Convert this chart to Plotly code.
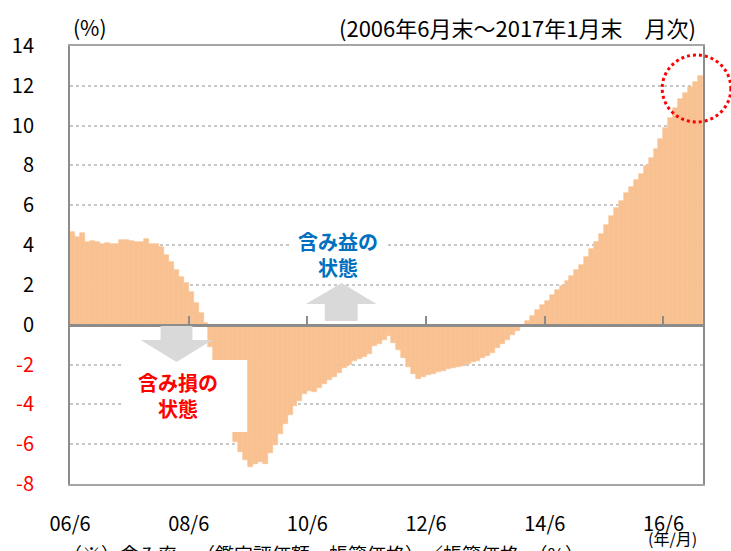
import numpy as np
import pandas as pd
import plotly.graph_objects as go

# ---------------- data ----------------
months = pd.date_range("2006-06-01", periods=128, freq="MS").strftime("%Y/%m").tolist()

values = [
    4.68, 4.41, 4.59, 4.17, 4.20, 4.15, 4.07, 4.12, 4.03, 4.07,
    4.25, 4.27, 4.20, 4.17, 4.17, 4.30, 4.03, 4.07, 3.90, 3.50,
    3.17, 2.73, 2.42, 2.10, 1.62, 1.11, 0.58, 0.10, -1.11, -2.40,
    -3.30, -4.20, -5.00, -5.90, -6.40, -6.80, -7.14, -7.02, -6.90, -7.02,
    -6.43, -6.04, -5.50, -4.99, -4.52, -4.07, -3.84, -3.49, -3.32, -3.37,
    -3.20, -2.99, -2.80, -2.63, -2.40, -2.19, -2.00, -1.80, -1.74, -1.60,
    -1.48, -1.06, -0.99, -0.77, -0.55, -0.92, -1.28, -1.68, -2.10, -2.46,
    -2.72, -2.63, -2.53, -2.45, -2.36, -2.31, -2.24, -2.19, -2.14, -2.07,
    -1.99, -1.89, -1.82, -1.69, -1.55, -1.40, -1.18, -0.98, -0.76, -0.51,
    -0.30, -0.10, 0.17, 0.44, 0.73, 0.99, 1.21, 1.48, 1.72, 1.96,
    2.20, 2.46, 2.73, 3.02, 3.39, 3.78, 4.16, 4.58, 5.01, 5.47,
    5.86, 6.23, 6.60, 6.94, 7.28, 7.58, 7.95, 8.37, 8.85, 9.35,
    9.86, 10.40, 10.87, 11.33, 11.63, 11.92, 12.19, 12.48,
]

tick_months = ["2006/06", "2008/06", "2010/06", "2012/06", "2014/06", "2016/06"]
tick_labels = ["06/6", "08/6", "10/6", "12/6", "14/6", "16/6"]
y_ticks = list(range(-8, 15, 2))

# ---------------- geometry / style ----------------
W, H = 731, 551
L, R, T, B = 67, 703, 46, 484
FONT = "Noto Sans CJK JP, Noto Sans, sans-serif"
BAR = "#F9C191"
AXC = "#8C8C8C"
GREY = "#D9D9D9"


def px(x):
    return (x - L) / (R - L)


def py(y):
    return (B - y) / (B - T)


def path(points):
    return "M " + " L ".join(f"{px(a):.5f},{py(b):.5f}" for a, b in points) + " Z"


def note(text, x, y, size, color="black", xanchor="center"):
    return dict(text=text, xref="paper", yref="paper", x=px(x), y=py(y),
                xanchor=xanchor, yanchor="middle", showarrow=False,
                font=dict(size=size, color=color, family=FONT))


x_idx = np.arange(len(values))
tick_idx = [months.index(m) for m in tick_months]

y_text = [
    (f'<span style="color:#FF0000">{v}</span>' if v < 0 else str(v)) for v in y_ticks
]

fig = go.Figure()
fig.add_trace(go.Bar(
    x=x_idx, y=values, width=1,
    marker=dict(color=BAR, line=dict(color=BAR, width=0.6)),
    customdata=months, hovertemplate="%{customdata}: %{y:.2f}%<extra></extra>",
    showlegend=False,
))
# invisible helper so the zero-line axis (x2) is drawn
fig.add_trace(go.Scatter(x=[0], y=[0], xaxis="x2", mode="markers",
                         marker=dict(opacity=0), hoverinfo="skip", showlegend=False))

fig.update_layout(
    width=W, height=H,
    margin=dict(l=L, r=W - R, t=T, b=H - B),
    paper_bgcolor="white", plot_bgcolor="white",
    bargap=0,
    font=dict(family=FONT, color="black"),
    xaxis=dict(
        range=[-0.5, len(values) - 0.5],
        tickmode="array",
        tickvals=[i - 0.5 for i in tick_idx],
        ticktext=tick_labels,
        ticks="", showgrid=False, zeroline=False,
        showline=True, mirror=True, linecolor="#A6A6A6", linewidth=2,
        tickfont=dict(size=20, family=FONT),
        ticklabelstandoff=21,
    ),
    xaxis2=dict(
        overlaying="x", matches="x", anchor="free",
        position=(0 - (-8)) / (14 - (-8)),
        range=[-0.5, len(values) - 0.5],
        tickmode="array",
        tickvals=[i - 0.5 for i in tick_idx[1:]],
        ticks="inside", ticklen=8, tickwidth=2, tickcolor=AXC,
        showticklabels=False, showgrid=False, zeroline=False,
        showline=True, linecolor=AXC, linewidth=2.5,
        layer="above traces",
    ),
    yaxis=dict(
        range=[-8, 14],
        tickmode="array", tickvals=y_ticks, ticktext=y_text,
        ticks="", zeroline=False,
        showgrid=True, gridcolor="#C8C8C8", gridwidth=2, griddash="dot",
        showline=True, mirror=True, linecolor=AXC, linewidth=2,
        tickfont=dict(size=20, family=FONT),
        ticklabelstandoff=30,
    ),
    shapes=[
        # white label backgrounds
        dict(type="rect", xref="paper", yref="paper", layer="above",
             x0=px(120), x1=px(245), y0=py(432), y1=py(360),
             fillcolor="white", line=dict(width=0)),
        dict(type="rect", xref="paper", yref="paper", layer="above",
             x0=px(288), x1=px(386), y0=py(281), y1=py(229),
             fillcolor="white", line=dict(width=0)),
        # grey arrows
        dict(type="path", xref="paper", yref="paper", layer="above",
             path=path([(158, 326), (190, 326), (190, 340), (210, 340),
                        (174, 362), (138, 340), (158, 340)]),
             fillcolor=GREY, line=dict(width=0)),
        dict(type="path", xref="paper", yref="paper", layer="above",
             path=path([(323, 321), (356, 321), (356, 304), (375, 304),
                        (340, 283), (304, 304), (323, 304)]),
             fillcolor=GREY, line=dict(width=0)),
        # red dotted circle
        dict(type="circle", xref="paper", yref="paper", layer="above",
             x0=px(662), x1=px(731), y0=py(122), y1=py(55),
             line=dict(color="#FF0000", width=3, dash="dot")),
    ],
    annotations=[
        note("<b>含み損の<br>状態</b>", 176, 395, 20, "#FF0000"),
        note("<b>含み益の<br>状態</b>", 336, 255, 20, "#0070C0"),
        note("(%)", 68, 27, 21, xanchor="left"),
        note("(2006年6月末～2017年1月末　月次)", 698, 27, 22, xanchor="right"),
        note("(年/月)", 672, 538, 16),
        note("（※）含み率＝（鑑定評価額－帳簿価格）／帳簿価格　（%）", 58, 553, 19,
             xanchor="left"),
    ],
)

fig.write_html("out.html", config={"displayModeBar": False},
               post_script="document.body.style.margin='0';")
